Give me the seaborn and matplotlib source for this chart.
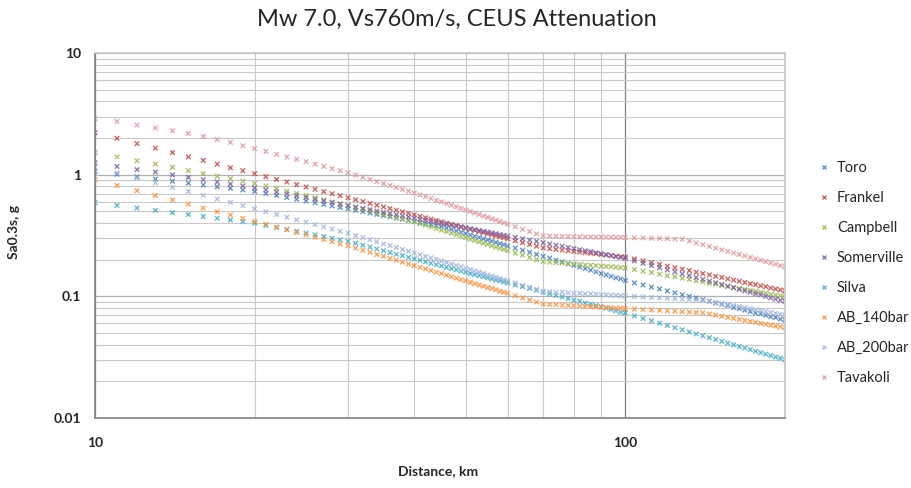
import pandas as pd
import seaborn as sns
import matplotlib
matplotlib.use("Agg")
import matplotlib.pyplot as plt
from matplotlib import ticker

# distances (km): 1 km steps to 60, then 2 km to 100, then 4 km to 200
distance_km = list(range(10, 61)) + list(range(62, 101, 2)) + list(range(104, 201, 4))

toro = [1.060, 1.007, 0.960, 0.920, 0.884, 0.852, 0.822, 0.796, 0.772, 0.749,
        0.729, 0.700, 0.674, 0.650, 0.628, 0.607, 0.588, 0.570, 0.553, 0.538,
        0.523, 0.509, 0.496, 0.484, 0.472, 0.461, 0.450, 0.440, 0.431, 0.422,
        0.413, 0.405, 0.397, 0.389, 0.382, 0.375, 0.365, 0.355, 0.345, 0.336,
        0.328, 0.319, 0.312, 0.304, 0.297, 0.290, 0.284, 0.277, 0.271, 0.265,
        0.259,
        0.249, 0.239, 0.230, 0.221, 0.213, 0.206, 0.198, 0.192, 0.185, 0.180,
        0.174, 0.169, 0.164, 0.159, 0.154, 0.150, 0.146, 0.142, 0.139, 0.135,
        0.129, 0.124, 0.119, 0.115, 0.111, 0.107, 0.103, 0.100, 0.097, 0.094,
        0.091, 0.088, 0.086, 0.084, 0.081, 0.079, 0.077, 0.075, 0.073, 0.072,
        0.070, 0.068, 0.067, 0.065, 0.064]

frankel = [2.21, 1.99, 1.80, 1.65, 1.52, 1.40, 1.31, 1.22, 1.14, 1.08,
           1.02, 0.963, 0.914, 0.870, 0.829, 0.792, 0.758, 0.726, 0.697, 0.671,
           0.646, 0.622, 0.601, 0.580, 0.561, 0.543, 0.526, 0.511, 0.495, 0.481,
           0.468, 0.455, 0.443, 0.431, 0.420, 0.410, 0.400, 0.391, 0.382, 0.373,
           0.364, 0.356, 0.349, 0.341, 0.334, 0.327, 0.321, 0.315, 0.309, 0.303,
           0.297,
           0.286, 0.276, 0.267, 0.258, 0.250, 0.247, 0.243, 0.240, 0.237, 0.234,
           0.231, 0.229, 0.226, 0.224, 0.221, 0.219, 0.216, 0.214, 0.212, 0.210,
           0.203, 0.196, 0.189, 0.183, 0.177, 0.172, 0.167, 0.163, 0.158, 0.154,
           0.150, 0.146, 0.143, 0.139, 0.136, 0.133, 0.130, 0.127, 0.125, 0.122,
           0.120, 0.117, 0.115, 0.113, 0.111]

campbell = [1.52, 1.40, 1.30, 1.22, 1.15, 1.08, 1.02, 0.973, 0.927, 0.886,
            0.849, 0.807, 0.768, 0.733, 0.701, 0.672, 0.645, 0.620, 0.596, 0.575,
            0.555, 0.536, 0.518, 0.502, 0.486, 0.472, 0.458, 0.445, 0.433, 0.421,
            0.410, 0.397, 0.384, 0.372, 0.361, 0.350, 0.340, 0.330, 0.321, 0.312,
            0.303, 0.295, 0.288, 0.280, 0.273, 0.267, 0.260, 0.254, 0.248, 0.243,
            0.237,
            0.227, 0.218, 0.209, 0.200, 0.193, 0.191, 0.189, 0.188, 0.186, 0.184,
            0.183, 0.181, 0.180, 0.179, 0.177, 0.176, 0.175, 0.174, 0.172, 0.171,
            0.166, 0.161, 0.157, 0.152, 0.148, 0.145, 0.141, 0.138, 0.134, 0.131,
            0.128, 0.126, 0.123, 0.121, 0.118, 0.116, 0.114, 0.112, 0.110, 0.108,
            0.106, 0.104, 0.102, 0.101, 0.099]

somerville = [1.25, 1.17, 1.10, 1.05, 0.995, 0.949, 0.908, 0.871, 0.838, 0.808,
              0.780, 0.749, 0.721, 0.695, 0.671, 0.648, 0.628, 0.608, 0.590, 0.573,
              0.557, 0.542, 0.528, 0.515, 0.502, 0.490, 0.479, 0.468, 0.458, 0.448,
              0.439, 0.430, 0.422, 0.413, 0.405, 0.398, 0.391, 0.384, 0.377, 0.371,
              0.365, 0.359, 0.353, 0.348, 0.342, 0.337, 0.332, 0.327, 0.322, 0.318,
              0.313,
              0.305, 0.297, 0.290, 0.283, 0.276, 0.269, 0.263, 0.258, 0.252, 0.247,
              0.242, 0.237, 0.233, 0.228, 0.224, 0.220, 0.216, 0.212, 0.209, 0.205,
              0.196, 0.187, 0.179, 0.172, 0.165, 0.159, 0.153, 0.148, 0.143, 0.138,
              0.133, 0.129, 0.125, 0.121, 0.118, 0.114, 0.111, 0.108, 0.105, 0.103,
              0.100, 0.097, 0.095, 0.093, 0.091]

silva = [0.589, 0.558, 0.532, 0.509, 0.488, 0.470, 0.453, 0.438, 0.424, 0.411,
         0.400, 0.383, 0.368, 0.355, 0.342, 0.331, 0.320, 0.310, 0.300, 0.291,
         0.283, 0.273, 0.263, 0.254, 0.245, 0.237, 0.229, 0.222, 0.216, 0.209,
         0.203, 0.198, 0.192, 0.187, 0.182, 0.178, 0.173, 0.169, 0.165, 0.161,
         0.158, 0.154, 0.151, 0.148, 0.145, 0.142, 0.139, 0.136, 0.134, 0.131,
         0.129,
         0.124, 0.120, 0.116, 0.112, 0.108, 0.105, 0.102, 0.099, 0.096, 0.093,
         0.091, 0.088, 0.086, 0.084, 0.082, 0.080, 0.078, 0.076, 0.074, 0.073,
         0.0691, 0.0658, 0.0629, 0.0601, 0.0576, 0.0553, 0.0531, 0.0510, 0.0491, 0.0474,
         0.0457, 0.0441, 0.0427, 0.0413, 0.0400, 0.0387, 0.0376, 0.0365, 0.0354, 0.0344,
         0.0335, 0.0326, 0.0317, 0.0309, 0.0301]

ab_140 = [0.910, 0.816, 0.739, 0.675, 0.620, 0.573, 0.532, 0.497, 0.466, 0.438,
          0.413, 0.391, 0.370, 0.352, 0.335, 0.320, 0.306, 0.293, 0.281, 0.270,
          0.260, 0.249, 0.239, 0.230, 0.221, 0.213, 0.205, 0.198, 0.191, 0.185,
          0.179, 0.173, 0.168, 0.163, 0.158, 0.154, 0.149, 0.145, 0.141, 0.137,
          0.134, 0.130, 0.127, 0.124, 0.121, 0.118, 0.116, 0.113, 0.110, 0.108,
          0.106,
          0.101, 0.0971, 0.0933, 0.0897, 0.0865, 0.0859, 0.0853, 0.0847, 0.0842, 0.0837,
          0.0832, 0.0827, 0.0823, 0.0818, 0.0814, 0.0809, 0.0805, 0.0801, 0.0797, 0.0793,
          0.0786, 0.0779, 0.0772, 0.0766, 0.0760, 0.0754, 0.0748, 0.0743, 0.0737, 0.0732,
          0.0716, 0.0701, 0.0686, 0.0672, 0.0659, 0.0646, 0.0634, 0.0622, 0.0611, 0.0600,
          0.0590, 0.0580, 0.0570, 0.0561, 0.0552]

ab_200 = [1.156, 1.036, 0.939, 0.857, 0.787, 0.728, 0.676, 0.631, 0.592, 0.556,
          0.525, 0.496, 0.470, 0.447, 0.426, 0.407, 0.389, 0.372, 0.357, 0.343,
          0.330, 0.316, 0.304, 0.292, 0.281, 0.270, 0.261, 0.252, 0.243, 0.235,
          0.227, 0.220, 0.213, 0.207, 0.201, 0.195, 0.189, 0.184, 0.179, 0.175,
          0.170, 0.166, 0.162, 0.158, 0.154, 0.150, 0.147, 0.143, 0.140, 0.137,
          0.134,
          0.129, 0.123, 0.119, 0.114, 0.110, 0.109, 0.108, 0.108, 0.107, 0.106,
          0.106, 0.105, 0.105, 0.104, 0.103, 0.103, 0.102, 0.102, 0.101, 0.101,
          0.0998, 0.0989, 0.0980, 0.0973, 0.0965, 0.0958, 0.0950, 0.0944, 0.0936, 0.0930,
          0.0909, 0.0890, 0.0871, 0.0853, 0.0837, 0.0820, 0.0805, 0.0790, 0.0776, 0.0762,
          0.0749, 0.0737, 0.0724, 0.0712, 0.0701]

tavakoli = [2.88, 2.74, 2.56, 2.42, 2.30, 2.18, 2.06, 1.95, 1.84, 1.73,
            1.64, 1.55, 1.47, 1.40, 1.34, 1.28, 1.22, 1.17, 1.12, 1.08,
            1.04, 0.993, 0.952, 0.913, 0.878, 0.845, 0.814, 0.785, 0.757, 0.731,
            0.707, 0.682, 0.660, 0.638, 0.617, 0.598, 0.579, 0.561, 0.544, 0.528,
            0.512, 0.497, 0.484, 0.470, 0.457, 0.445, 0.434, 0.423, 0.412, 0.402,
            0.392,
            0.373, 0.356, 0.341, 0.326, 0.315, 0.313, 0.312, 0.311, 0.310, 0.309,
            0.309, 0.308, 0.308, 0.307, 0.307, 0.306, 0.306, 0.305, 0.305, 0.304,
            0.303, 0.302, 0.300, 0.299, 0.298, 0.296, 0.295, 0.285, 0.275, 0.266,
            0.257, 0.249, 0.241, 0.234, 0.227, 0.221, 0.215, 0.209, 0.203, 0.198,
            0.193, 0.188, 0.184, 0.179, 0.175]

models = ["Toro", "Frankel", "Campbell", "Somerville", "Silva",
          "AB_140bar", "AB_200bar", "Tavakoli"]
series = [toro, frankel, campbell, somerville, silva, ab_140, ab_200, tavakoli]
colors = ["#4F81BD", "#C0504D", "#9BBB59", "#8064A2", "#4BACC6",
          "#F79646", "#A4B7DE", "#DE9CA0"]

rows = []
for name, vals in zip(models, series):
    for d, v in zip(distance_km, vals):
        rows.append({"Distance": d, "Sa": v, "Model": name})
df = pd.DataFrame(rows)

sns.set_theme(style="white")
plt.rcParams["font.family"] = ["Lato", "DejaVu Sans"]

fig = plt.figure(figsize=(9.12, 4.88), dpi=100)
ax = fig.add_axes([95 / 912, 1 - 418 / 488, 690 / 912, 365 / 488])

sns.scatterplot(data=df, x="Distance", y="Sa", hue="Model", hue_order=models,
                palette=colors, marker="x", s=11, linewidth=1.0, alpha=0.85, ax=ax)

ax.set_xscale("log")
ax.set_yscale("log")
ax.set_xlim(10, 200)
ax.set_ylim(0.01, 10)

ax.grid(which="minor", color="#C8C8C8", linewidth=0.8)
ax.xaxis.grid(which="major", color="#7F7F7F", linewidth=0.9)
ax.yaxis.grid(which="major", color="#B0B0B0", linewidth=0.9)
ax.set_axisbelow(True)

ax.xaxis.set_major_locator(ticker.FixedLocator([10, 100]))
ax.yaxis.set_major_locator(ticker.FixedLocator([0.01, 0.1, 1, 10]))
fmt = ticker.FuncFormatter(lambda v, _: f"{v:g}")
ax.xaxis.set_major_formatter(fmt)
ax.yaxis.set_major_formatter(fmt)
ax.xaxis.set_minor_formatter(ticker.NullFormatter())
ax.yaxis.set_minor_formatter(ticker.NullFormatter())
ax.tick_params(which="both", length=0)
ax.tick_params(axis="x", pad=14, labelsize=10)
ax.tick_params(axis="y", pad=10, labelsize=10)
for lab in ax.get_xticklabels() + ax.get_yticklabels():
    lab.set_fontweight("bold")

for side in ["left", "bottom"]:
    ax.spines[side].set_color("#868686")
for side in ["top", "right"]:
    ax.spines[side].set_color("#C8C8C8")

ax.set_xlabel("")
ax.set_ylabel("")
fig.text(438 / 912, 1 - 471 / 488, "Distance, km", ha="center", va="center",
         fontsize=10, fontweight="bold")
fig.text(14 / 912, 1 - 232 / 488, "Sa0.3s, g", ha="center", va="center",
         rotation=90, fontsize=10, fontweight="bold")
fig.text(457 / 912, 1 - 19 / 488, "Mw 7.0, Vs760m/s, CEUS Attenuation",
         ha="center", va="center", fontsize=17)

sns.move_legend(ax, loc="upper left", bbox_to_anchor=((818 - 95) / 690, (418 - 161.5) / 365),
                frameon=False, title=None, fontsize=10.5, labelspacing=1.09,
                handlelength=0.8, handletextpad=0.5, borderaxespad=0, borderpad=0)

fig.savefig("out.png", dpi=100, facecolor="white")
